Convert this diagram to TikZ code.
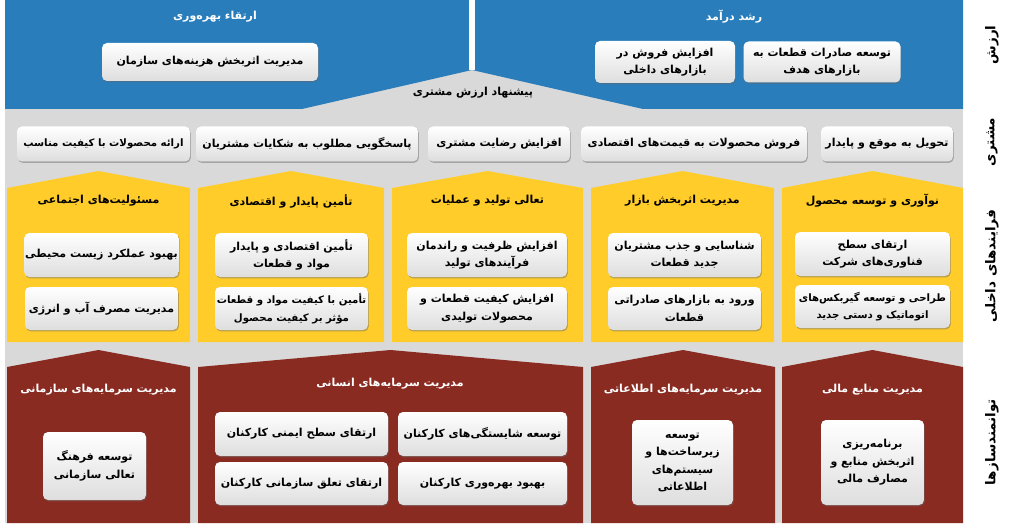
\documentclass[tikz,border=0pt]{standalone}
\usepackage{fontspec}
\newfontfamily\arabicfont[Script=Arabic]{DejaVu Sans}
\TeXXeTstate=1
\usetikzlibrary{shadows}
\definecolor{bgGray}{HTML}{D9D9D9}
\definecolor{valBlue}{HTML}{2A7DBB}
\definecolor{procYel}{HTML}{FFCC2A}
\definecolor{enRed}{HTML}{8A2B22}
\newcommand{\fa}[1]{\beginR #1\endR}
\newcommand{\bxfont}{\arabicfont\bfseries\fontsize{11}{17.5}\selectfont}
\newcommand{\bxsmall}{\arabicfont\bfseries\fontsize{10.2}{17.5}\selectfont}
\newcommand{\ttlfont}{\arabicfont\bfseries\fontsize{11}{14}\selectfont}
\newcommand{\sdfont}{\arabicfont\bfseries\fontsize{13.5}{16}\selectfont}
\tikzset{
  card/.style={rounded corners=5pt, top color=white, bottom color=black!13,
    drop shadow={shadow xshift=0.8pt, shadow yshift=-1.4pt, opacity=0.45, fill=black!60},
    inner sep=1pt, align=center, font=\bxfont, text=black},
  tightcard/.style={card, font=\bxsmall},
  ttlwhite/.style={font=\ttlfont, text=white, align=center},
  ttlblack/.style={font=\ttlfont, text=black, align=center},
  sidelbl/.style={font=\sdfont, text=black, rotate=90},
}
\begin{document}
\begin{tikzpicture}[x=1pt,y=-1pt]
\useasboundingbox (0,0) rectangle (1023,524);
% background
\fill[bgGray] (5,0) rectangle (963,523);
% value (blue)
\fill[valBlue] (5,0) -- (963,0) -- (963,109) -- (643,109) -- (472,70) -- (302,109) -- (5,109) -- cycle;
\fill[white] (469,0) rectangle (475,70);
% yellow panels
\foreach \a/\b in {7/190, 198/384, 392/583, 591/774, 782/963}{
  \fill[procYel] (\a,342) -- (\a,188) -- ({(\a+\b)/2},171) -- (\b,188) -- (\b,342) -- cycle;
}
% red panels
\foreach \a/\b in {7/190, 198/583, 591/775, 782/963}{
  \fill[enRed] (\a,523) -- (\a,367) -- ({(\a+\b)/2},350) -- (\b,367) -- (\b,523) -- cycle;
}
% ---- value layer
\node[ttlwhite] (tProd) at (215,17) {\fa{ارتقاء بهره^^^^200cوری}};
\node[ttlwhite] (tRev) at (734,17) {\fa{رشد درآمد}};
\node[card, minimum width=216pt, minimum height=38pt] (v1) at (210,62) {\fa{مدیریت اثربخش هزینه^^^^200cهای سازمان}};
\node[card, minimum width=140pt, minimum height=42pt] (v2) at (665,62) {\fa{افزایش فروش در}\\\fa{بازارهای داخلی}};
\node[card, minimum width=157pt, minimum height=41pt] (v3) at (822,62) {\fa{توسعه صادرات قطعات به}\\\fa{بازارهای هدف}};
\node[ttlblack] (tCVP) at (473,93) {\fa{پیشنهاد ارزش مشتری}};
% ---- customer layer
\node[tightcard, minimum width=173pt, minimum height=35pt] (c1) at (103.5,144) {\fa{ارائه محصولات با کیفیت مناسب}};
\node[card, minimum width=222pt, minimum height=35pt] (c2) at (307,144) {\fa{پاسخگویی مطلوب به شکایات مشتریان}};
\node[card, minimum width=142pt, minimum height=35pt] (c3) at (499,144) {\fa{افزایش رضایت مشتری}};
\node[card, minimum width=226pt, minimum height=35pt] (c4) at (694,144) {\fa{فروش محصولات به قیمت^^^^200cهای اقتصادی}};
\node[card, minimum width=132pt, minimum height=35pt] (c5) at (887,144) {\fa{تحویل به موقع و پایدار}};
% ---- internal processes
\node[ttlblack] (tP1) at (98.5,201) {\fa{مسئولیت^^^^200cهای اجتماعی}};
\node[ttlblack] (tP2) at (291,201) {\fa{تأمین پایدار و اقتصادی}};
\node[ttlblack] (tP3) at (487.5,201) {\fa{تعالی تولید و عملیات}};
\node[ttlblack] (tP4) at (682.5,201) {\fa{مدیریت اثربخش بازار}};
\node[ttlblack] (tP5) at (872.5,201) {\fa{نوآوری و توسعه محصول}};
\node[card, minimum width=153pt, minimum height=44pt] (p1a) at (101.5,255) {\fa{بهبود عملکرد زیست محیطی}};
\node[card, minimum width=153pt, minimum height=43pt] (p1b) at (101.5,308.5) {\fa{مدیریت مصرف آب و انرژی}};
\node[card, minimum width=153pt, minimum height=44pt] (p2a) at (291.5,255) {\fa{تأمین اقتصادی و پایدار}\\\fa{مواد و قطعات}};
\node[tightcard, minimum width=153pt, minimum height=43pt] (p2b) at (291.5,308.5) {\fa{تأمین با کیفیت مواد و قطعات}\\\fa{مؤثر بر کیفیت محصول}};
\node[card, minimum width=160pt, minimum height=44pt] (p3a) at (487,255) {\fa{افزایش ظرفیت و راندمان}\\\fa{فرآیندهای تولید}};
\node[card, minimum width=160pt, minimum height=43pt] (p3b) at (487,308.5) {\fa{افزایش کیفیت قطعات و}\\\fa{محصولات تولیدی}};
\node[card, minimum width=153pt, minimum height=44pt] (p4a) at (684.5,255) {\fa{شناسایی و جذب مشتریان}\\\fa{جدید قطعات}};
\node[card, minimum width=153pt, minimum height=43pt] (p4b) at (684.5,308.5) {\fa{ورود به بازارهای صادراتی}\\\fa{قطعات}};
\node[card, minimum width=155pt, minimum height=44pt] (p5a) at (872.5,254) {\fa{ارتقای سطح}\\\fa{فناوری^^^^200cهای شرکت}};
\node[tightcard, minimum width=155pt, minimum height=43pt] (p5b) at (872.5,306.5) {\fa{طراحی و توسعه گیربکس^^^^200cهای}\\\fa{اتوماتیک و دستی جدید}};
% ---- enablers
\node[ttlwhite] (tE1) at (98.5,390) {\fa{مدیریت سرمایه^^^^200cهای سازمانی}};
\node[ttlwhite] (tE2) at (390,384) {\fa{مدیریت سرمایه^^^^200cهای انسانی}};
\node[ttlwhite] (tE3) at (683,390) {\fa{مدیریت سرمایه^^^^200cهای اطلاعاتی}};
\node[ttlwhite] (tE4) at (872.5,390) {\fa{مدیریت منابع مالی}};
\node[card, minimum width=103pt, minimum height=68pt] (e1) at (94.5,466) {\fa{توسعه فرهنگ}\\\fa{تعالی سازمانی}};
\node[card, minimum width=173pt, minimum height=44pt] (e2a) at (301.5,434) {\fa{ارتقای سطح ایمنی کارکنان}};
\node[card, minimum width=173pt, minimum height=43pt] (e2b) at (301.5,483.5) {\fa{ارتقای تعلق سازمانی کارکنان}};
\node[card, minimum width=169pt, minimum height=44pt] (e2c) at (482.5,434) {\fa{توسعه شایستگی^^^^200cهای کارکنان}};
\node[card, minimum width=169pt, minimum height=43pt] (e2d) at (482.5,483.5) {\fa{بهبود بهره^^^^200cوری کارکنان}};
\node[card, minimum width=101pt, minimum height=85pt] (e3) at (682.5,462.5) {\fa{توسعه}\\\fa{زیرساخت^^^^200cها و}\\\fa{سیستم^^^^200cهای}\\\fa{اطلاعاتی}};
\node[card, minimum width=103pt, minimum height=85pt] (e4) at (872.5,462.5) {\fa{برنامه^^^^200cریزی}\\\fa{اثربخش منابع و}\\\fa{مصارف مالی}};
% ---- side labels
\node[sidelbl] (sV) at (992,45) {\fa{ارزش}};
\node[sidelbl] (sC) at (992,142) {\fa{مشتری}};
\node[sidelbl] (sP) at (992,266) {\fa{فرایندهای داخلی}};
\node[sidelbl] (sE) at (992,442) {\fa{توانمندسازها}};
\end{tikzpicture}
\end{document}
